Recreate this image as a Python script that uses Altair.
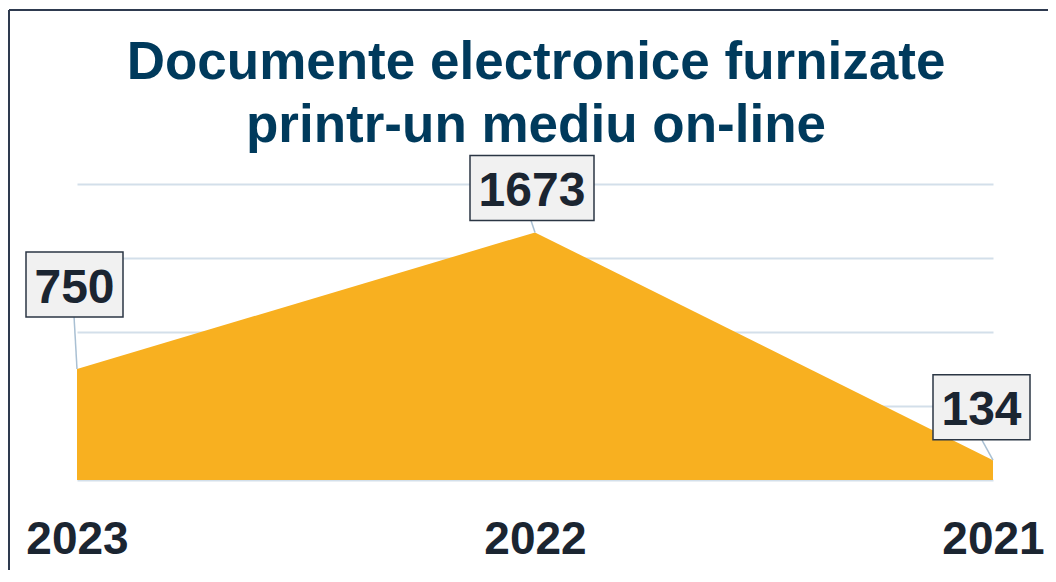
import altair as alt
import pandas as pd

years = ["2023", "2022", "2021"]
values = [750, 1673, 134]
title_lines = ["Documente electronice furnizate", "printr-un mediu on-line"]
grid_values = [0, 500, 1000, 1500, 2000]

df = pd.DataFrame({"year": years, "value": values, "label": [str(v) for v in values]})

FONT = "Liberation Sans"
W, H = 916, 296

# label box placement relative to data point: (dx, dy, box width)
box_style = {"2023": (-2.5, -84.5, 97), "2022": (-3, -44.5, 124), "2021": (-11.5, -53, 97)}
leader_end = {"2023": (-3, -53), "2022": (-4, -12), "2021": (-11, -20)}

x_enc = alt.X(
    "year:N", sort=years,
    scale=alt.Scale(type="point", padding=0),
    axis=alt.Axis(title=None, labelFontSize=46, labelFont=FONT, labelFontWeight="bold",
                  labelColor="#1b2531", ticks=False, tickSize=0, domain=False, grid=False,
                  labelPadding=73, labelBaseline="alphabetic", labelAngle=0, labelOverlap=False),
)
y_enc = alt.Y(
    "value:Q", scale=alt.Scale(domain=[0, 2000]),
    axis=alt.Axis(title=None, labels=False, ticks=False, domain=False, values=grid_values,
                  gridColor="#d3dfea", gridWidth=2, gridOpacity=1),
)

base = alt.Chart(df)
area = base.mark_area(color="#f8b020", opacity=1).encode(x=x_enc, y=y_enc)

layers = [area]
for yr in years:
    dx, dy, w = box_style[yr]
    lx, ly = leader_end[yr]
    sub = base.transform_filter(alt.datum.year == yr)
    layers.append(
        sub.mark_rule(color="#a9c0d3", strokeWidth=1.5, x2Offset=lx, y2Offset=ly).encode(
            x=alt.X("year:N", sort=years), y="value:Q",
            x2=alt.X2("year:N"), y2=alt.Y2("value:Q"))
    )
    layers.append(
        sub.mark_rect(width=w, height=65, xOffset=dx, yOffset=dy, fill="#f1f1f1",
                      stroke="#2b3644", strokeWidth=1.5).encode(
            x=alt.X("year:N", sort=years), y="value:Q")
    )
    layers.append(
        sub.mark_text(fontSize=48, font=FONT, fontWeight="bold", color="#1b2531",
                      align="center", baseline="alphabetic", dx=dx, dy=dy + 18).encode(
            x=alt.X("year:N", sort=years), y="value:Q", text="label:N")
    )

title_df = pd.DataFrame({"t": title_lines, "i": [0, 1]})
title1 = alt.Chart(title_df).transform_filter(alt.datum.i == 0).mark_text(
    fontSize=53, font=FONT, fontWeight="bold", color="#003a5c", align="center",
    baseline="alphabetic").encode(x=alt.value(459), y=alt.value(-105), text="t:N")
title2 = alt.Chart(title_df).transform_filter(alt.datum.i == 1).mark_text(
    fontSize=53, font=FONT, fontWeight="bold", color="#003a5c", align="center",
    baseline="alphabetic").encode(x=alt.value(459), y=alt.value(-42), text="t:N")

frame_left = alt.Chart(title_df).transform_filter(alt.datum.i == 0).mark_rule(
    color="#2e3a4f", strokeWidth=2).encode(x=alt.value(-68), y=alt.value(-174), y2=alt.value(500))
frame_top = alt.Chart(title_df).transform_filter(alt.datum.i == 0).mark_rule(
    color="#2e3a4f", strokeWidth=2).encode(y=alt.value(-174), x=alt.value(-68), x2=alt.value(1000))

chart = alt.layer(*layers, title1, title2, frame_left, frame_top).properties(
    width=W, height=H,
    background="white",
    autosize=alt.AutoSizeParams(type="none"),
    padding={"left": 69, "top": 176, "right": 55, "bottom": 90},
).configure_view(stroke=None)

chart.save("out.html", embed_options={"renderer": "svg", "actions": False})
